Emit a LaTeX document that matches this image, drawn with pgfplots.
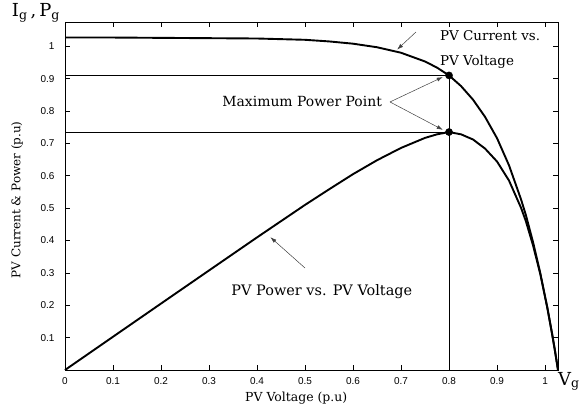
\documentclass[border=0pt]{standalone}
\usepackage{pgfplots}
\pgfplotsset{compat=1.18}
\usepackage{fontspec}
\setmainfont{DejaVu Serif}
\newfontfamily\tickfont{Liberation Sans}
\usetikzlibrary{arrows.meta}
\begin{document}
\begin{tikzpicture}
\useasboundingbox (0,0) rectangle (581bp,412bp);
\begin{axis}[
  at={(65bp,42bp)}, anchor=south west,
  scale only axis, width=493bp, height=348bp,
  xmin=0, xmax=1.027, ymin=0, ymax=1.075,
  xtick={0,0.1,0.2,0.3,0.4,0.5,0.6,0.7,0.8,0.9,1},
  ytick={0.1,0.2,0.3,0.4,0.5,0.6,0.7,0.8,0.9,1},
  xticklabels={0,0.1,0.2,0.3,0.4,0.5,0.6,0.7,0.8,0.9,1},
  yticklabels={0.1,0.2,0.3,0.4,0.5,0.6,0.7,0.8,0.9,1},
  tick pos=both, tick align=inside, major tick length=5bp,
  tick style={black, line width=0.6bp},
  axis line style={black, line width=0.8bp},
  tick label style={font=\tickfont\fontsize{10}{10}\selectfont},
  xticklabel style={yshift=-4bp},
  yticklabel style={xshift=-7bp},
  clip=false,
]
% guide lines
\addplot[black, line width=0.6bp] coordinates {(0,0.91) (0.8,0.91)};
\addplot[black, line width=0.6bp] coordinates {(0,0.735) (0.8,0.735)};
\addplot[black, line width=0.6bp] coordinates {(0.8,0) (0.8,0.91)};
% PV current
\addplot[black, line width=1.9bp, line join=round] coordinates {
(0,1.027) (0.1,1.027) (0.2,1.026) (0.3,1.025) (0.4,1.024) (0.5,1.020)
(0.55,1.015) (0.6,1.008) (0.65,0.997) (0.7,0.980) (0.75,0.953) (0.775,0.934)
(0.8,0.910) (0.825,0.877) (0.85,0.835) (0.875,0.782) (0.9,0.716) (0.925,0.632)
(0.95,0.527) (0.96,0.479) (0.975,0.395) (0.99,0.300) (1.005,0.190) (1.015,0.108)
(1.02,0.065) (1.027,0)};
% PV power
\addplot[black, line width=1.9bp, line join=round] coordinates {
(0,0) (0.1,0.1027) (0.2,0.2052) (0.3,0.3075) (0.4,0.4096) (0.5,0.510)
(0.55,0.558) (0.6,0.605) (0.65,0.648) (0.7,0.686) (0.75,0.717) (0.775,0.728)
(0.8,0.735) (0.825,0.728) (0.85,0.712) (0.875,0.684) (0.9,0.644) (0.925,0.585)
(0.95,0.501) (0.96,0.460) (0.975,0.385) (0.99,0.297) (1.005,0.191) (1.015,0.110)
(1.02,0.066) (1.027,0)};
% maximum power points
\addplot[only marks, mark=*, mark size=3.6bp, black] coordinates {(0.8,0.91) (0.8,0.735)};
% annotations
\node[anchor=west, align=left, font=\fontsize{13.5}{25}\selectfont, inner sep=0pt]
  at (axis cs:0.781,0.99) {PV Current vs.\\PV Voltage};
\draw[-{Latex[length=6bp,width=4bp]}, black!75, line width=0.5bp]
  (axis cs:0.731,1.044) -- (axis cs:0.692,0.99);
\node[font=\fontsize{14}{16}\selectfont, inner sep=0pt]
  at (axis cs:0.494,0.828) {Maximum Power Point};
\draw[-{Latex[length=6bp,width=4bp]}, black!75, line width=0.5bp]
  (axis cs:0.677,0.828) -- (axis cs:0.787,0.905);
\draw[-{Latex[length=6bp,width=4bp]}, black!75, line width=0.5bp]
  (axis cs:0.677,0.828) -- (axis cs:0.787,0.742);
\node[font=\fontsize{14.5}{16}\selectfont, inner sep=0pt]
  at (axis cs:0.535,0.241) {PV Power vs. PV Voltage};
\draw[-{Latex[length=6bp,width=4bp]}, black!75, line width=0.5bp]
  (axis cs:0.500,0.315) -- (axis cs:0.428,0.41);
% axis labels
\node[font=\fontsize{12.5}{14}\selectfont, inner sep=0pt]
  at (rel axis cs:0.469,-0.081) {PV Voltage (p.u)};
\node[rotate=90, font=\fontsize{12}{14}\selectfont, inner sep=0pt]
  at (rel axis cs:-0.097,0.489) {PV Current \& Power (p.u)};
\node[anchor=south east, font=\fontsize{18}{18}\selectfont, inner sep=0pt]
  at (rel axis cs:-0.01,1.0) {I\textsubscript{g}\,,\,P\textsubscript{g}};
\node[anchor=north west, font=\fontsize{18}{18}\selectfont, inner sep=0pt]
  at (rel axis cs:1.0,-0.006) {V\textsubscript{g}};
\end{axis}
\end{tikzpicture}
\end{document}
